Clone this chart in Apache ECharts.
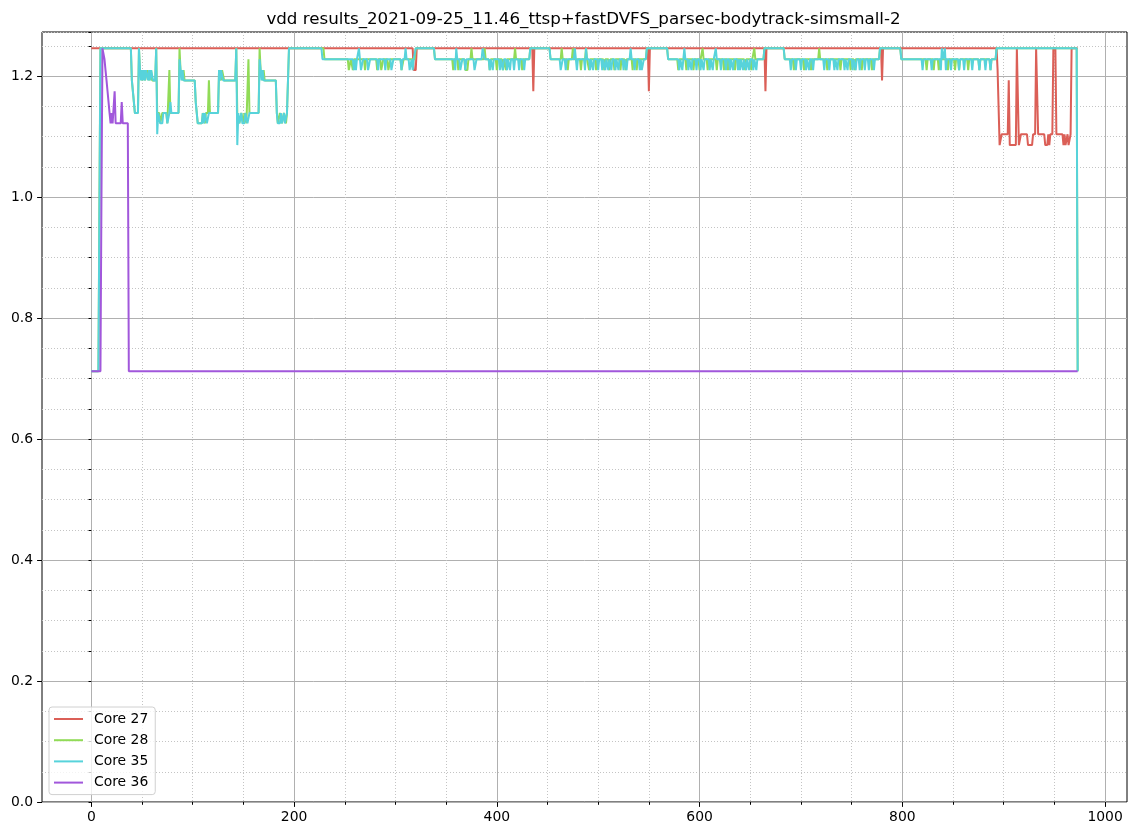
<!DOCTYPE html>
<html>
<head>
<meta charset="utf-8">
<script src="https://cdn.jsdelivr.net/npm/echarts@6/dist/echarts.min.js"></script>
<style>
html,body{margin:0;padding:0;background:#fff;}
#chart{width:1140px;height:836px;}
</style>
</head>
<body>
<div id="chart"></div>
<script>
// ---- Data (run-length: [start sample index, voltage] -> value holds until next run) ----
const TITLE = 'vdd results_2021-09-25_11.46_ttsp+fastDVFS_parsec-bodytrack-simsmall-2';
const seriesNames = ['Core 27', 'Core 28', 'Core 35', 'Core 36'];
const seriesColors = ['#db5f57', '#91db57', '#57d3db', '#a157db'];
const lastSample = 973;
const xTickLabels = [0, 200, 400, 600, 800, 1000];
const yTickLabels = [0.0, 0.2, 0.4, 0.6, 0.8, 1.0, 1.2];

const core27Runs = [
  [0,1.246],[318,1.21],[321,1.246],[436,1.175],[437,1.246],[550,1.175],[551,1.246],
  [665,1.175],[666,1.246],[780,1.193],[781,1.246],
  [894,1.21],[896,1.086],[898,1.104],[905,1.193],[906,1.086],[913,1.246],[915,1.086],
  [917,1.104],[924,1.086],[929,1.104],[932,1.246],[934,1.104],[941,1.086],[944,1.104],
  [945,1.086],[946,1.104],[949,1.246],[952,1.104],[959,1.086],[960,1.104],[961,1.086],
  [963,1.104],[964,1.086],[966,1.104],[967,1.246]
];

const core28Runs = [
  [0,0.712],[8,1.0],[9,1.246],[40,1.193],[42,1.157],[43,1.139],[47,1.246],[48,1.21],[50,1.193],
  [51,1.21],[53,1.193],[55,1.21],[57,1.193],[59,1.21],[60,1.193],[64,1.246],[65,1.139],[68,1.122],
  [70,1.139],[75,1.122],[77,1.21],[78,1.139],[87,1.246],[88,1.21],[90,1.193],[91,1.21],[92,1.193],
  [103,1.157],[105,1.122],[110,1.139],[112,1.122],[113,1.139],[116,1.193],[117,1.139],[126,1.21],
  [128,1.193],[129,1.21],[131,1.193],[143,1.246],[144,1.139],[146,1.122],[148,1.139],[150,1.122],
  [151,1.139],[153,1.122],[155,1.228],[156,1.139],[166,1.246],[167,1.21],[169,1.193],[170,1.21],
  [171,1.193],[183,1.139],[184,1.122],[186,1.139],[188,1.122],[190,1.139],[192,1.122],[193,1.139],
  [195,1.246],[230,1.228],[254,1.21],[256,1.228],[258,1.21],[259,1.228],[270,1.21],[271,1.228],
  [282,1.21],[283,1.228],[286,1.21],[288,1.228],[293,1.21],[295,1.228],[306,1.21],[308,1.228],
  [320,1.246],[339,1.228],[357,1.21],[358,1.228],[362,1.21],[363,1.228],[369,1.21],[372,1.228],
  [375,1.246],[376,1.228],[388,1.246],[389,1.228],[393,1.21],[394,1.228],[400,1.21],[401,1.228],
  [406,1.21],[407,1.228],[409,1.21],[410,1.228],[418,1.246],[419,1.228],[425,1.21],[426,1.228],
  [433,1.246],[453,1.228],[464,1.246],[465,1.228],[470,1.21],[471,1.228],[475,1.246],[476,1.228],
  [483,1.21],[484,1.228],[488,1.246],[489,1.228],[491,1.21],[492,1.228],[498,1.21],[499,1.228],
  [506,1.21],[507,1.228],[511,1.21],[512,1.228],[516,1.21],[517,1.228],[522,1.21],[523,1.228],
  [527,1.21],[528,1.228],[534,1.21],[535,1.228],[538,1.21],[539,1.228],[548,1.246],[569,1.228],
  [579,1.21],[580,1.228],[587,1.21],[588,1.228],[594,1.21],[595,1.228],[600,1.21],[601,1.228],
  [603,1.246],[604,1.228],[608,1.21],[609,1.228],[617,1.21],[618,1.228],[624,1.21],[625,1.228],
  [628,1.21],[629,1.228],[635,1.21],[636,1.228],[645,1.21],[646,1.228],[651,1.21],[652,1.228],
  [654,1.246],[655,1.228],[664,1.246],[684,1.228],[693,1.21],[694,1.228],[703,1.21],[704,1.228],
  [710,1.21],[711,1.228],[718,1.246],[719,1.228],[726,1.21],[727,1.228],[739,1.21],[740,1.228],
  [749,1.21],[750,1.228],[753,1.21],[754,1.228],[760,1.21],[761,1.228],[770,1.21],[771,1.228],
  [778,1.246],[799,1.228],[824,1.21],[825,1.228],[831,1.21],[832,1.228],[836,1.21],[837,1.228],
  [845,1.21],[846,1.228],[852,1.21],[853,1.228],[856,1.21],[857,1.228],[865,1.21],[866,1.228],
  [876,1.21],[877,1.228],[887,1.21],[888,1.228],[893,1.246],[973,0.712]
];

const core35Runs = [
  [0,0.712],[8,0.98],[9,1.246],[40,1.193],[42,1.157],[43,1.139],[47,1.246],
  [48,1.21],[49,1.193],[50,1.21],[51,1.193],[52,1.21],[53,1.193],[54,1.21],[56,1.193],[57,1.21],
  [58,1.193],[59,1.21],[61,1.193],[64,1.246],[65,1.104],[66,1.139],[68,1.122],[71,1.139],[75,1.122],
  [77,1.139],[78,1.157],[79,1.139],[87,1.228],[88,1.21],[89,1.193],[90,1.21],[91,1.193],
  [103,1.157],[105,1.122],[110,1.139],[111,1.122],[112,1.139],[114,1.122],[116,1.139],
  [126,1.21],[127,1.193],[128,1.21],[130,1.193],[143,1.246],[144,1.086],[145,1.139],[146,1.122],
  [148,1.139],[149,1.122],[152,1.139],[154,1.122],[156,1.139],[166,1.228],[167,1.21],[168,1.193],
  [169,1.21],[170,1.193],[183,1.139],[184,1.122],[187,1.139],[188,1.122],[190,1.139],[191,1.122],
  [193,1.139],[195,1.246],
  [228,1.228],[259,1.21],[260,1.228],[261,1.21],[262,1.228],[264,1.246],[265,1.228],[266,1.21],
  [268,1.228],[273,1.21],[275,1.228],[283,1.21],[284,1.228],[290,1.21],[291,1.228],[296,1.21],
  [298,1.228],[306,1.21],[307,1.228],[310,1.246],[311,1.228],[314,1.21],[316,1.228],[317,1.21],
  [318,1.228],[320,1.246],
  [339,1.228],[359,1.21],[360,1.246],[361,1.228],[364,1.21],[366,1.228],[369,1.21],[370,1.228],
  [378,1.21],[380,1.228],[386,1.246],[388,1.228],[393,1.21],[394,1.228],[396,1.21],[397,1.228],
  [403,1.21],[404,1.228],[406,1.21],[407,1.228],[410,1.21],[411,1.228],[413,1.21],[414,1.228],
  [417,1.21],[418,1.228],[422,1.21],[423,1.228],[427,1.21],[428,1.228],[433,1.246],
  [453,1.228],[463,1.21],[465,1.228],[468,1.21],[469,1.228],[477,1.246],[478,1.228],[479,1.21],
  [480,1.228],[487,1.21],[488,1.246],[489,1.228],[492,1.21],[493,1.228],[495,1.21],[496,1.228],
  [500,1.21],[501,1.228],[504,1.21],[505,1.228],[507,1.21],[508,1.228],[510,1.21],[511,1.228],
  [513,1.21],[514,1.228],[517,1.21],[518,1.228],[520,1.21],[521,1.228],[525,1.21],[526,1.228],
  [528,1.21],[529,1.228],[532,1.246],[533,1.228],[536,1.21],[537,1.228],[541,1.21],[542,1.228],
  [543,1.21],[545,1.228],[548,1.246],
  [569,1.228],[580,1.21],[581,1.228],[583,1.21],[584,1.228],[585,1.246],[586,1.228],[589,1.21],
  [590,1.228],[592,1.21],[593,1.228],[597,1.21],[598,1.228],[601,1.21],[602,1.228],[604,1.21],
  [605,1.228],[610,1.21],[611,1.228],[613,1.21],[614,1.228],[616,1.246],[617,1.228],[621,1.21],
  [622,1.228],[626,1.21],[627,1.228],[630,1.21],[631,1.228],[633,1.21],[634,1.228],[638,1.21],
  [639,1.228],[640,1.21],[641,1.228],[643,1.21],[644,1.228],[646,1.21],[647,1.228],[649,1.21],
  [650,1.228],[653,1.21],[654,1.228],[656,1.21],[657,1.228],[664,1.246],
  [684,1.228],[690,1.21],[691,1.228],[695,1.21],[696,1.228],[700,1.21],[701,1.228],[705,1.21],
  [706,1.228],[708,1.21],[709,1.228],[712,1.21],[713,1.228],[723,1.21],[724,1.228],[728,1.21],
  [729,1.228],[733,1.21],[734,1.228],[736,1.21],[737,1.228],[743,1.21],[744,1.228],[746,1.21],
  [747,1.228],[751,1.21],[752,1.228],[754,1.21],[755,1.228],[758,1.21],[759,1.228],[763,1.21],
  [764,1.228],[767,1.21],[768,1.228],[772,1.21],[773,1.228],[778,1.246],
  [799,1.228],[820,1.21],[821,1.228],[829,1.21],[830,1.228],[838,1.21],[839,1.246],[840,1.228],
  [842,1.246],[843,1.21],[844,1.228],[848,1.21],[849,1.228],[856,1.21],[857,1.228],[861,1.21],
  [862,1.228],[869,1.21],[870,1.228],[876,1.21],[877,1.228],[882,1.21],[883,1.228],[887,1.21],
  [888,1.228],[893,1.246],[973,0.712]
];

const core36Runs = [
  [0,0.712],[10,1.0],[11,1.246],[13,1.228],[14,1.21],[15,1.193],[16,1.175],[17,1.157],[18,1.139],
  [19,1.122],[20,1.139],[21,1.122],[23,1.175],[24,1.122],[30,1.157],[31,1.122],[37,0.712]
];

// Expand runs into the sampled polyline (each sample one step apart, as logged).
function expandRuns(runs, end) {
  const pts = [];
  for (let i = 0; i < runs.length; i++) {
    const s = runs[i][0], v = runs[i][1];
    if (i > 0) {
      const ps = runs[i - 1][0], pv = runs[i - 1][1];
      if (s - 1 > ps) pts.push([s - 1, pv]);
    }
    pts.push([s, v]);
  }
  const last = runs[runs.length - 1];
  if (end > last[0]) pts.push([end, last[1]]);
  return pts;
}

const allRuns = [core27Runs, core28Runs, core35Runs, core36Runs];

// ---- Layout (matplotlib-like axes box) ----
const FONT = 'DejaVu Sans';
const L = 42, T = 32, W = 1085, H = 770;
const XMIN = -48.65, XMAX = 1021.65, YMIN = 0, YMAX = 1.273;
const pxPerX = W / (XMAX - XMIN);
const pxPerY = H / (YMAX - YMIN);
const x0px = L + (0 - XMIN) * pxPerX;
const xAxisW = (xTickLabels[xTickLabels.length - 1] - xTickLabels[0]) * pxPerX;
const yTopPx = T + H - yTickLabels[yTickLabels.length - 1] * pxPerY;
const yAxisH = yTickLabels[yTickLabels.length - 1] * pxPerY;

const majorGrid = { color: '#b0b0b0', width: 1, type: 'solid' };
const minorGrid = { color: '#c4c4c4', width: 1, type: [1, 2] };

const chart = echarts.init(document.getElementById('chart'), null, { renderer: 'canvas' });

const series = seriesNames.map((name, i) => ({
  name: name,
  type: 'line',
  xAxisIndex: 0,
  yAxisIndex: 0,
  data: expandRuns(allRuns[i], lastSample),
  showSymbol: false,
  symbol: 'none',
  lineStyle: { color: seriesColors[i], width: 2 },
  itemStyle: { color: seriesColors[i] },
  z: 3 + i,
  animation: false
}));

chart.setOption({
  animation: false,
  backgroundColor: '#ffffff',
  textStyle: { fontFamily: FONT },
  title: {
    text: TITLE,
    left: L + W / 2 - 6,
    textAlign: 'center',
    top: 6,
    textStyle: { fontFamily: FONT, fontSize: 16.7, fontWeight: 'normal', color: '#000' }
  },
  legend: {
    data: seriesNames,
    orient: 'vertical',
    left: 49,
    top: 707,
    itemWidth: 29,
    itemHeight: 14,
    itemGap: 7.2,
    padding: [5, 7, 5, 4],
    backgroundColor: 'rgba(255,255,255,0.8)',
    borderColor: '#d0d0d0',
    borderWidth: 1,
    borderRadius: 3,
    itemStyle: { opacity: 0 },
    lineStyle: { width: 2 },
    textStyle: { fontFamily: FONT, fontSize: 13.9, color: '#000', padding: [0, 0, 0, 6] }
  },
  grid: [
    { left: L, top: T, width: W, height: H, show: true, borderColor: '#000', borderWidth: 1, backgroundColor: 'transparent' },
    { left: x0px, top: T, width: xAxisW, height: H, show: false },
    { left: L, top: yTopPx, width: W, height: yAxisH, show: false }
  ],
  xAxis: [
    { type: 'value', gridIndex: 0, min: XMIN, max: XMAX, show: true,
      axisLine: { show: false }, axisTick: { show: false }, axisLabel: { show: false },
      splitLine: { show: false } },
    { type: 'value', gridIndex: 1, min: xTickLabels[0], max: xTickLabels[xTickLabels.length - 1], interval: 200,
      position: 'bottom',
      axisLine: { show: false },
      axisTick: { show: true, inside: false, length: 4.9, lineStyle: { color: '#000', width: 1 } },
      minorTick: { show: true, splitNumber: 4, length: 2.8, lineStyle: { color: '#000', width: 1 } },
      axisLabel: { show: true, margin: 8, fontFamily: FONT, fontSize: 13.9, color: '#000',
        formatter: v => String(Math.round(v)) },
      splitLine: { show: true, lineStyle: majorGrid },
      minorSplitLine: { show: true, lineStyle: minorGrid } },
    { type: 'value', gridIndex: 2, min: 0, max: 1, show: false }
  ],
  yAxis: [
    { type: 'value', gridIndex: 0, min: YMIN, max: YMAX, interval: 0.05,
      axisLine: { show: false },
      axisTick: { show: true, inside: false, length: 2.8, lineStyle: { color: '#000', width: 1 } },
      axisLabel: { show: false },
      splitLine: { show: true, lineStyle: minorGrid } },
    { type: 'value', gridIndex: 1, min: 0, max: 1, show: false },
    { type: 'value', gridIndex: 2, min: yTickLabels[0], max: yTickLabels[yTickLabels.length - 1], interval: 0.2,
      position: 'left',
      axisLine: { show: false },
      axisTick: { show: true, inside: false, length: 4.9, lineStyle: { color: '#000', width: 1 } },
      axisLabel: { show: true, margin: 9, fontFamily: FONT, fontSize: 13.9, color: '#000',
        formatter: v => Number(v).toFixed(1) },
      splitLine: { show: true, lineStyle: majorGrid } }
  ],
  series: series
});
</script>
</body>
</html>
